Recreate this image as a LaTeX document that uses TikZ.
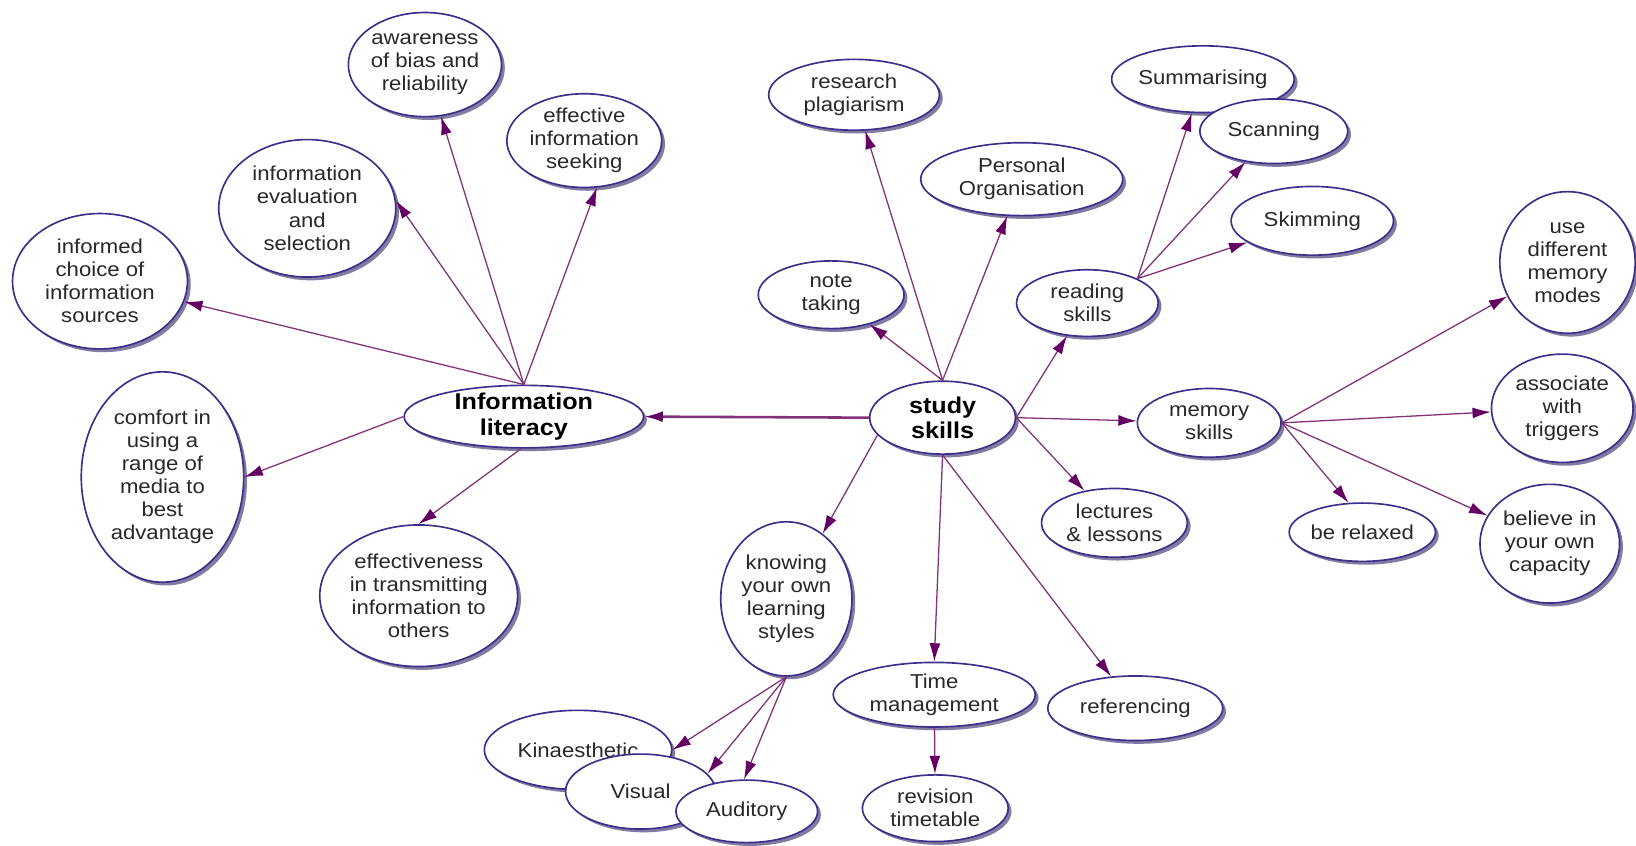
\documentclass[tikz,border=0pt]{standalone}
\usepackage{fontspec}
\setmainfont[FakeStretch=1.1]{Liberation Sans}
\usetikzlibrary{shapes.geometric, arrows.meta, shadows}
\definecolor{rim}{RGB}{58,48,140}
\definecolor{rimshade}{RGB}{130,122,160}
\definecolor{linkcol}{RGB}{130,50,120}
\definecolor{tipcol}{RGB}{100,0,100}
\definecolor{ink}{RGB}{40,40,40}
\tikzset{
  bubble/.style={ellipse, draw=rim, line width=0.9pt, fill=white, align=center, text=ink,
    inner sep=0pt, drop shadow={shadow xshift=1.8pt, shadow yshift=-1.8pt, fill=rimshade, opacity=1}},
  hub/.style={bubble, inner ysep=-2pt, text=black, font=\fontsize{12.5}{14}\selectfont\bfseries},
  link/.style={color=linkcol, line width=0.7pt, -{Latex[length=10pt, width=6pt, color=tipcol]}}
}
\begin{document}
\begin{tikzpicture}[x=0.02cm, y=-0.02cm, font=\fontsize{11}{12.6}\selectfont]
      \fill[white] (0, 0) rectangle (1568, 812);
      \path (408, 62) node[bubble, minimum width=2.8cm, minimum height=2cm] (aware) {awareness\\of bias and\\reliability}
            (561, 135) node[bubble, minimum width=2.64cm, minimum height=1.8cm] (seek) {effective\\information\\seeking}
            (295, 200) node[bubble, minimum width=3.4cm, minimum height=2.64cm] (evalsel) {information\\evaluation\\and\\selection}
            (96, 270) node[bubble, minimum width=3.36cm, minimum height=2.6cm] (choice) {informed\\choice of\\information\\sources}
            (156, 458) node[bubble, minimum width=3.12cm, minimum height=4.04cm] (comfort) {comfort in\\using a\\range of\\media to\\best\\advantage}
            (503, 400) node[hub, minimum width=4.6cm, minimum height=1.2cm] (infolit) {Information\\literacy}
            (402, 572) node[bubble, minimum width=3.8cm, minimum height=2.72cm] (transmit) {effectiveness\\in transmitting\\information to\\others};
      \path (905, 401) node[hub, minimum width=2.8cm, minimum height=1.4cm] (study) {study\\skills}
            (798, 283) node[bubble, minimum width=2.8cm, minimum height=1.3cm] (note) {note\\taking}
            (820, 91) node[bubble, minimum width=3.28cm, minimum height=1.36cm] (research) {research\\plagiarism}
            (981, 172) node[bubble, minimum width=3.88cm, minimum height=1.4cm] (personal) {Personal\\Organisation}
            (1044, 291) node[bubble, minimum width=2.72cm, minimum height=1.28cm] (reading) {reading\\skills}
            (1155, 76) node[bubble, minimum width=3.5cm, minimum height=1.28cm] (summ) {Summarising}
            (1223, 126) node[bubble, minimum width=2.84cm, minimum height=1.24cm] (scan) {Scanning}
            (1260, 212) node[bubble, minimum width=3.12cm, minimum height=1.32cm] (skim) {Skimming};
      \path (1161, 406) node[bubble, minimum width=2.76cm, minimum height=1.32cm] (memory) {memory\\skills}
            (1505, 252) node[bubble, minimum width=2.6cm, minimum height=2.72cm] (modes) {use\\different\\memory\\modes}
            (1500, 392) node[bubble, minimum width=2.72cm, minimum height=2.08cm] (triggers) {associate\\with\\triggers}
            (1308, 511) node[bubble, minimum width=2.8cm, minimum height=1.12cm] (relaxed) {be relaxed}
            (1488, 522) node[bubble, minimum width=2.68cm, minimum height=2.28cm] (believe) {believe in\\your own\\capacity}
            (1070, 502) node[bubble, minimum width=2.8cm, minimum height=1.32cm] (lectures) {lectures\\\& lessons};
      \path (755, 575) node[bubble, minimum width=2.52cm, minimum height=2.96cm] (knowing) {knowing\\your own\\learning\\styles}
            (897, 667) node[bubble, minimum width=3.88cm, minimum height=1.24cm] (timemgmt) {Time\\management}
            (1090, 680) node[bubble, minimum width=3.36cm, minimum height=1.24cm] (refs) {referencing}
            (898, 776) node[bubble, minimum width=2.8cm, minimum height=1.28cm] (revision) {revision\\timetable}
            (555, 720) node[bubble, minimum width=3.6cm, minimum height=1.52cm] (kinaes) {Kinaesthetic}
            (615, 760) node[bubble, minimum width=2.88cm, minimum height=1.44cm] (visual) {Visual}
            (717, 779) node[bubble, minimum width=2.72cm, minimum height=1.2cm] (auditory) {Auditory};
      \path[link] (infolit.north) edge (aware) edge (seek.-75) edge (evalsel.5) edge (choice)
                  (infolit.west) edge (comfort.east)
                  (infolit.-95) edge (transmit.north);
      \draw[link, line width=1.4pt] (study.west) -- (infolit.east);
      \path[link] (study.north) edge (note) edge (research) edge (personal)
                  (study.east) edge (reading) edge (memory) edge (lectures)
                  (study.195) edge (knowing)
                  (study.south) edge (timemgmt.north) edge (refs);
      \path[link] (reading.26) edge (summ) edge (scan) edge (skim)
                  (memory.east) edge (modes) edge (triggers) edge (relaxed.115) edge (believe)
                  (knowing.south) edge (kinaes.east) edge (visual.15) edge (auditory.95)
                  (timemgmt) edge (revision);
\end{tikzpicture}
\end{document}
